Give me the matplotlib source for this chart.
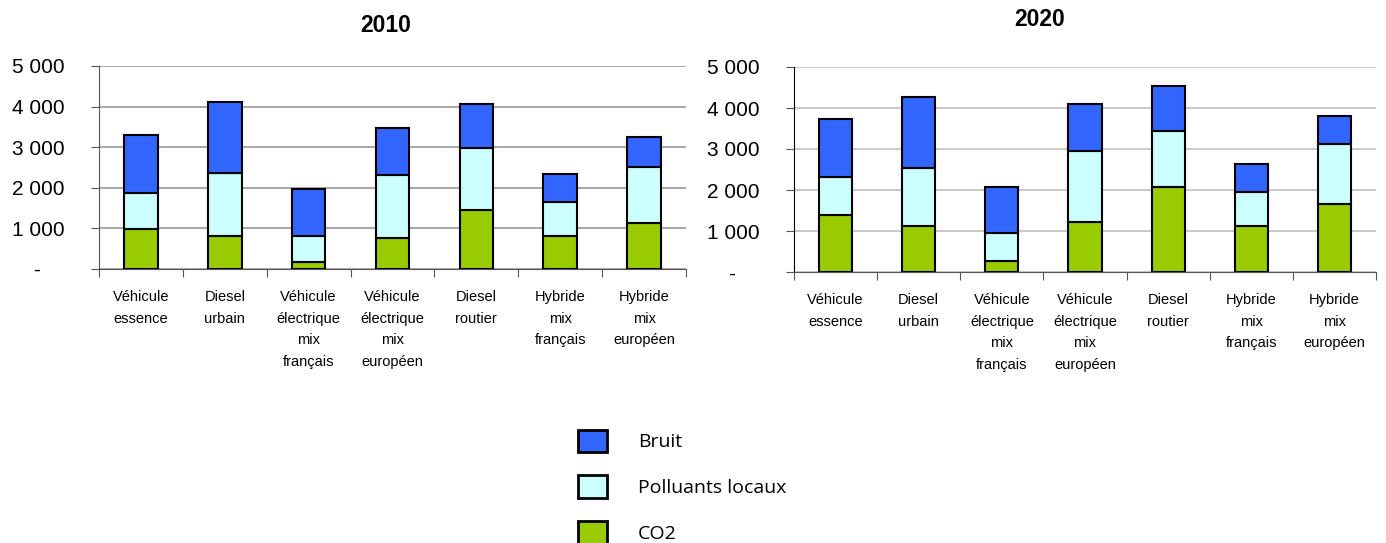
import numpy as np
import matplotlib
matplotlib.use("Agg")
from matplotlib import pyplot as plt
from matplotlib.patches import Patch
from matplotlib.ticker import FuncFormatter

plt.rcParams['font.family'] = ['Liberation Sans', 'DejaVu Sans']

# Data ------------------------------------------------------------------------
categories = ["Véhicule\nessence", "Diesel\nurbain", "Véhicule\nélectrique\nmix\nfrançais",
              "Véhicule\nélectrique\nmix\neuropéen", "Diesel\nroutier", "Hybride\nmix\nfrançais",
              "Hybride\nmix\neuropéen"]
series = ["Bruit", "Polluants locaux", "CO2"]
colors = {"Bruit": "#3366FF", "Polluants locaux": "#CCFFFF", "CO2": "#99CC00"}

# stacked components (CO2 at bottom)
co2_2010 = [990, 810, 180, 770, 1450, 810, 1140]
pol_2010 = [870, 1560, 630, 1550, 1520, 830, 1380]
bruit_2010 = [1430, 1740, 1150, 1160, 1100, 700, 730]

co2_2020 = [1400, 1130, 260, 1210, 2080, 1120, 1670]
pol_2020 = [910, 1410, 690, 1740, 1370, 820, 1450]
bruit_2020 = [1410, 1730, 1130, 1140, 1090, 690, 690]

years = ["2010", "2020"]
data = {"2010": (co2_2010, pol_2010, bruit_2010),
        "2020": (co2_2020, pol_2020, bruit_2020)}

W, H = 1386, 543
fig = plt.figure(figsize=(W / 100, H / 100), dpi=100)

# axes boxes in pixels: left, top, right, bottom
boxes = {"2010": (99, 66, 686, 269), "2020": (794, 67, 1376, 272)}
grid_col = {"2010": "#999999", "2020": "#c0c0c0"}
title_pos = {"2010": (386, 25), "2020": (1040, 20)}

fmt = FuncFormatter(lambda v, p: "-    " if v == 0 else "{:,.0f}".format(v).replace(",", " "))

for yr in years:
    l, t, r, b = boxes[yr]
    ax = fig.add_axes([l / W, 1 - b / H, (r - l) / W, (b - t) / H])
    co2, pol, bru = [np.array(s) for s in data[yr]]
    x = np.arange(len(categories))
    kw = dict(width=0.4, edgecolor="black", linewidth=1.5, zorder=3)
    ax.bar(x, co2, color=colors["CO2"], **kw)
    ax.bar(x, pol, bottom=co2, color=colors["Polluants locaux"], **kw)
    ax.bar(x, bru, bottom=co2 + pol, color=colors["Bruit"], **kw)

    ax.set_xlim(-0.5, len(categories) - 0.5)
    ax.set_ylim(0, 5000)
    ax.set_yticks(np.arange(0, 5001, 1000))
    ax.yaxis.set_major_formatter(fmt)
    ax.grid(axis="y", color=grid_col[yr], linewidth=1.2, zorder=0)
    for s in ["top", "right"]:
        ax.spines[s].set_visible(False)
    ax.spines["left"].set_color("#555555" if yr == "2010" else "black")
    ax.spines["bottom"].set_color("#555555")

    # category labels centred, ticks on the boundaries
    ax.set_xticks(np.arange(-0.5, len(categories), 1.0))
    ax.set_xticklabels([])
    ax.set_xticks(x, minor=True)
    ax.set_xticklabels(categories, minor=True, fontsize=10.5, linespacing=1.7, va="top")
    ax.tick_params(axis="x", which="minor", length=0, pad=15)
    ax.tick_params(axis="x", which="major", length=6, color="#555555")
    ax.tick_params(axis="y", length=6, labelsize=15, pad=19, color="#555555")

    fig.text(title_pos[yr][0] / W, 1 - title_pos[yr][1] / H, yr, ha="center", va="center",
             fontsize=16.5, fontweight="bold")

# Legend ----------------------------------------------------------------------
handles = [Patch(facecolor=colors[s], edgecolor="black", linewidth=2) for s in series]
fig.legend(handles, series, loc="upper left", bbox_to_anchor=(560 / W, 1 - 412 / H),
           frameon=False, prop={"family": "Open Sans", "size": 14},
           handlelength=1.5, handleheight=1.4, handletextpad=1.6, labelspacing=1.2)

plt.savefig("out.png", dpi=100)
